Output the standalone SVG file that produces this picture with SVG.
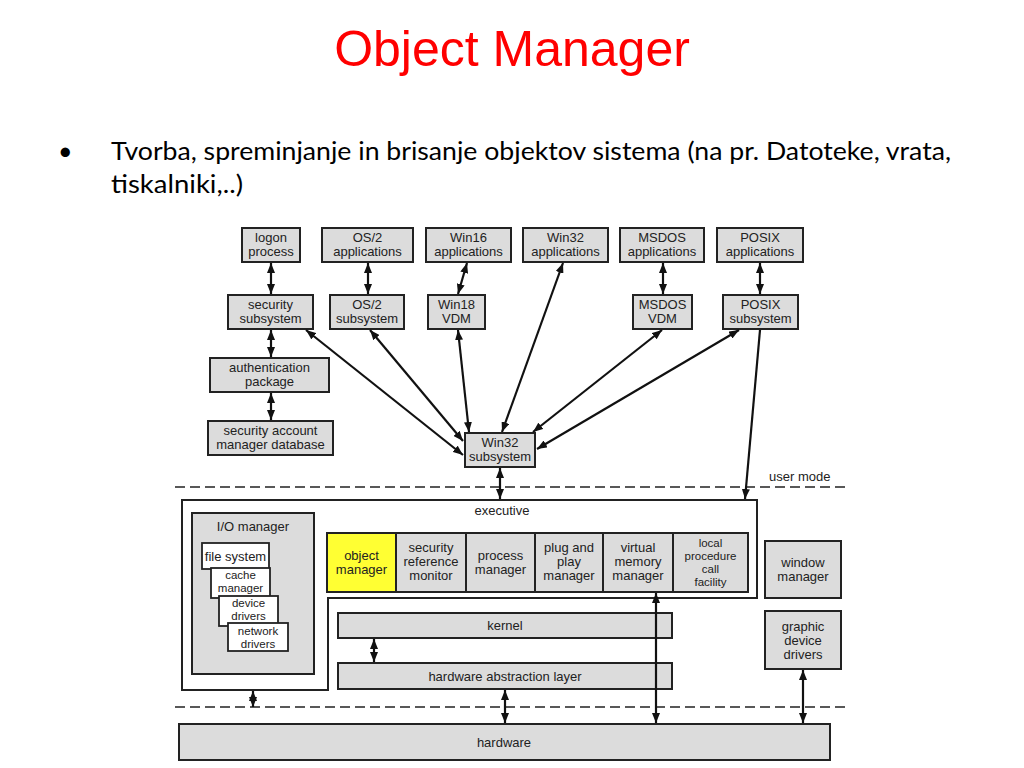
<svg xmlns="http://www.w3.org/2000/svg" width="1024" height="768" viewBox="0 0 1024 768">
<defs>
<marker id="ah" viewBox="0 0 10 8" refX="10" refY="4" markerWidth="10" markerHeight="8" markerUnits="userSpaceOnUse" orient="auto-start-reverse">
<path d="M0,0 L10,4 L0,8 z" fill="#111"/>
</marker>
<style>
.bx{fill:#dcdcdc;stroke:#222;stroke-width:2}
.wb{fill:#fff;stroke:#222;stroke-width:1.8}
.t{font-family:"Liberation Sans",Arial,sans-serif;font-size:13px;fill:#222;text-anchor:middle}
.sm{font-size:11.5px}
.c{stroke:#111;stroke-width:2.2;fill:none;marker-start:url(#ah);marker-end:url(#ah)}
.s{stroke:#111;stroke-width:2.2;fill:none;marker-end:url(#ah)}
.d{stroke:#222;stroke-width:1.6;stroke-dasharray:10,5;fill:none}
</style>
</defs>
<rect width="1024" height="768" fill="#fff"/>
<text x="512" y="66" font-family="Liberation Sans,Arial,sans-serif" font-size="50" fill="#f00" text-anchor="middle">Object Manager</text>
<text x="58" y="160" font-family="Lato,sans-serif" font-size="25" fill="#000">•</text>
<text x="111" y="160" font-family="Lato,sans-serif" font-size="25" fill="#000" textLength="840" lengthAdjust="spacingAndGlyphs">Tvorba, spreminjanje in brisanje objektov sistema (na pr. Datoteke, vrata,</text>
<text x="111" y="193" font-family="Lato,sans-serif" font-size="25" fill="#000" textLength="132" lengthAdjust="spacingAndGlyphs">tiskalniki,..)</text>

<g id="dashes">
<line class="d" x1="175" y1="487" x2="845" y2="487"/>
<line class="d" x1="175" y1="707" x2="845" y2="707"/>
<text class="t" x="769" y="481" style="text-anchor:start">user mode</text>
</g>

<g id="logon"><rect class="bx" x="242" y="228" width="58" height="34"/><text class="t" x="271" y="242">logon</text><text class="t" x="271" y="256">process</text></g>
<g id="os2app"><rect class="bx" x="322" y="228" width="91" height="34"/><text class="t" x="367.5" y="242">OS/2</text><text class="t" x="367.5" y="256">applications</text></g>
<g id="win16app"><rect class="bx" x="426" y="228" width="85" height="34"/><text class="t" x="468.5" y="242">Win16</text><text class="t" x="468.5" y="256">applications</text></g>
<g id="win32app"><rect class="bx" x="523" y="228" width="85" height="34"/><text class="t" x="565.5" y="242">Win32</text><text class="t" x="565.5" y="256">applications</text></g>
<g id="msdosapp"><rect class="bx" x="620" y="228" width="84" height="34"/><text class="t" x="662" y="242">MSDOS</text><text class="t" x="662" y="256">applications</text></g>
<g id="posixapp"><rect class="bx" x="717" y="228" width="86" height="34"/><text class="t" x="760" y="242">POSIX</text><text class="t" x="760" y="256">applications</text></g>

<g id="secsub"><rect class="bx" x="228" y="295" width="85" height="34"/><text class="t" x="270.5" y="309">security</text><text class="t" x="270.5" y="323">subsystem</text></g>
<g id="os2sub"><rect class="bx" x="330" y="295" width="74" height="34"/><text class="t" x="367" y="309">OS/2</text><text class="t" x="367" y="323">subsystem</text></g>
<g id="win18vdm"><rect class="bx" x="428" y="295" width="57" height="34"/><text class="t" x="456.5" y="309">Win18</text><text class="t" x="456.5" y="323">VDM</text></g>
<g id="msdosvdm"><rect class="bx" x="633" y="295" width="59" height="34"/><text class="t" x="662.5" y="309">MSDOS</text><text class="t" x="662.5" y="323">VDM</text></g>
<g id="posixsub"><rect class="bx" x="723" y="295" width="75" height="34"/><text class="t" x="760.5" y="309">POSIX</text><text class="t" x="760.5" y="323">subsystem</text></g>

<g id="authpkg"><rect class="bx" x="210" y="358" width="119" height="34"/><text class="t" x="269.5" y="372">authentication</text><text class="t" x="269.5" y="386">package</text></g>
<g id="samdb"><rect class="bx" x="208" y="421" width="125" height="34"/><text class="t" x="270.5" y="435">security account</text><text class="t" x="270.5" y="449">manager database</text></g>
<g id="win32sub"><rect class="bx" x="465" y="433" width="70" height="34"/><text class="t" x="500" y="447">Win32</text><text class="t" x="500" y="461">subsystem</text></g>

<g id="executive">
<path d="M182,500 H757 V598 H328 V690 H182 Z" fill="#fff" stroke="#222" stroke-width="2"/>
<text class="t" x="502" y="515">executive</text>
</g>

<g id="iomanager">
<rect class="bx" x="192" y="513" width="122" height="161"/>
<text class="t" x="253" y="531">I/O manager</text>
<rect class="wb" x="202" y="543" width="67" height="26"/><text class="t" x="235.5" y="561">file system</text>
<rect class="wb" x="211" y="568" width="59" height="30"/><text class="t sm" x="240.5" y="579">cache</text><text class="t sm" x="240.5" y="592">manager</text>
<rect class="wb" x="219" y="596" width="59" height="30"/><text class="t sm" x="248.5" y="607">device</text><text class="t sm" x="248.5" y="620">drivers</text>
<rect class="wb" x="228" y="623" width="60" height="28"/><text class="t sm" x="258" y="635">network</text><text class="t sm" x="258" y="648">drivers</text>
</g>

<g id="objmgr"><rect x="327" y="533" width="69" height="59" fill="#ffff33" stroke="#222" stroke-width="2"/><text class="t" x="361.5" y="560">object</text><text class="t" x="361.5" y="573.5">manager</text></g>
<g id="secref"><rect class="bx" x="396" y="533" width="70" height="59"/><text class="t" x="431" y="552">security</text><text class="t" x="431" y="566">reference</text><text class="t" x="431" y="580">monitor</text></g>
<g id="procmgr"><rect class="bx" x="466" y="533" width="69" height="59"/><text class="t" x="500.5" y="560">process</text><text class="t" x="500.5" y="573.5">manager</text></g>
<g id="pnp"><rect class="bx" x="535" y="533" width="68" height="59"/><text class="t" x="569" y="552">plug and</text><text class="t" x="569" y="566">play</text><text class="t" x="569" y="580">manager</text></g>
<g id="vmm"><rect class="bx" x="603" y="533" width="70" height="59"/><text class="t" x="638" y="552">virtual</text><text class="t" x="638" y="566">memory</text><text class="t" x="638" y="580">manager</text></g>
<g id="lpc"><rect class="bx" x="673" y="533" width="75" height="59"/><text class="t sm" x="710.5" y="547">local</text><text class="t sm" x="710.5" y="560">procedure</text><text class="t sm" x="710.5" y="573">call</text><text class="t sm" x="710.5" y="586">facility</text></g>

<g id="kernel"><rect class="bx" x="338" y="613" width="334" height="25"/><text class="t" x="505" y="630">kernel</text></g>
<g id="hal"><rect class="bx" x="338" y="663" width="334" height="26"/><text class="t" x="505" y="680.5">hardware abstraction layer</text></g>
<g id="winmgr"><rect class="bx" x="765" y="541" width="76" height="57"/><text class="t" x="803" y="566.5">window</text><text class="t" x="803" y="580.5">manager</text></g>
<g id="gdd"><rect class="bx" x="765" y="611" width="76" height="58"/><text class="t" x="803" y="630.5">graphic</text><text class="t" x="803" y="644.5">device</text><text class="t" x="803" y="658.5">drivers</text></g>
<g id="hardware"><rect class="bx" x="179" y="724" width="651" height="36"/><text class="t" x="504" y="746.5">hardware</text></g>

<g id="connectors">
<line class="c" x1="271" y1="263" x2="271" y2="294"/>
<line class="c" x1="368" y1="263" x2="368" y2="294"/>
<line class="c" x1="467" y1="263" x2="458" y2="294"/>
<line class="c" x1="663" y1="263" x2="663" y2="294"/>
<line class="c" x1="760" y1="263" x2="760" y2="294"/>
<line class="c" x1="271" y1="330" x2="271" y2="357"/>
<line class="c" x1="271" y1="393" x2="271" y2="420"/>
<line class="c" x1="306" y1="330" x2="463" y2="455"/>
<line class="c" x1="370" y1="330" x2="463" y2="441"/>
<line class="c" x1="458" y1="330" x2="469" y2="432"/>
<line class="c" x1="563" y1="263" x2="502" y2="432"/>
<line class="c" x1="662" y1="330" x2="533" y2="432"/>
<line class="c" x1="739" y1="330" x2="537" y2="449"/>
<line class="c" x1="500" y1="468" x2="500" y2="499"/>
<line class="s" x1="760" y1="330" x2="745" y2="499"/>
<line class="c" x1="253" y1="691" x2="253" y2="707"/>
<line class="c" x1="374" y1="639" x2="374" y2="662"/>
<line class="c" x1="505" y1="690" x2="505" y2="723"/>
<line class="c" x1="656" y1="593" x2="656" y2="723"/>
<line class="c" x1="803" y1="670" x2="803" y2="723"/>
</g>
</svg>
